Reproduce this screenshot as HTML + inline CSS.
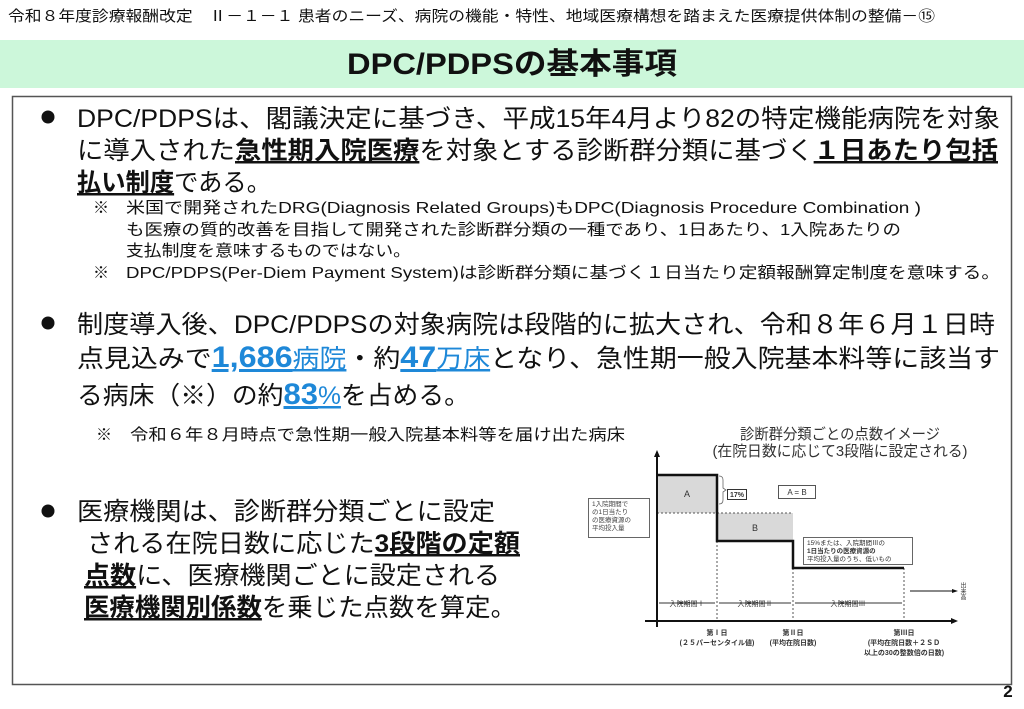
<!DOCTYPE html>
<html><head><meta charset="utf-8"><style>
html,body{margin:0;padding:0;background:#fff;}
svg{display:block;font-family:"Liberation Sans","Noto Sans CJK JP",sans-serif;}
.b{font-weight:bold;}
.u{text-decoration:underline;}
.bl{fill:#1e88d8;font-weight:bold;text-decoration:underline;}
</style></head><body>
<svg width="1024" height="709" viewBox="0 0 1024 709" xmlns="http://www.w3.org/2000/svg">
<text x="8" y="21" font-size="15" textLength="927" lengthAdjust="spacingAndGlyphs" fill="#111">令和８年度診療報酬改定　Ⅱ－１－１ 患者のニーズ、病院の機能・特性、地域医療構想を踏まえた医療提供体制の整備－⑮</text>
<rect x="0" y="40" width="1024" height="48" fill="#ccf7da"/>
<text x="512" y="74" font-size="30" font-weight="bold" text-anchor="middle" textLength="330" lengthAdjust="spacingAndGlyphs" fill="#111">DPC/PDPSの基本事項</text>
<rect x="12.5" y="96.5" width="999" height="588" fill="none" stroke="#555" stroke-width="1.5"/>

<g fill="#111">
<circle cx="48" cy="117" r="6.5"/>
<text x="77" y="127" font-size="25" textLength="923" lengthAdjust="spacingAndGlyphs">DPC/PDPSは、閣議決定に基づき、平成15年4月より82の特定機能病院を対象</text>
<text x="77" y="159" font-size="25" textLength="921" lengthAdjust="spacingAndGlyphs">に導入された<tspan class="b u">急性期入院医療</tspan>を対象とする診断群分類に基づく<tspan class="b u">１日あたり包括</tspan></text>
<text x="77" y="191" font-size="25" textLength="194" lengthAdjust="spacingAndGlyphs"><tspan class="b u">払い制度</tspan>である。</text>

<text x="93" y="213" font-size="16">※</text>
<text x="126" y="213" font-size="16" textLength="795" lengthAdjust="spacingAndGlyphs">米国で開発されたDRG(Diagnosis Related Groups)もDPC(Diagnosis Procedure Combination )</text>
<text x="126" y="235" font-size="16" textLength="775" lengthAdjust="spacingAndGlyphs">も医療の質的改善を目指して開発された診断群分類の一種であり、1日あたり、1入院あたりの</text>
<text x="126" y="256" font-size="16" textLength="285" lengthAdjust="spacingAndGlyphs">支払制度を意味するものではない。</text>
<text x="93" y="278" font-size="16">※</text>
<text x="126" y="278" font-size="16" textLength="874" lengthAdjust="spacingAndGlyphs">DPC/PDPS(Per-Diem Payment System)は診断群分類に基づく１日当たり定額報酬算定制度を意味する。</text>

<circle cx="48" cy="323" r="6.5"/>
<text x="77" y="333" font-size="25" textLength="918" lengthAdjust="spacingAndGlyphs">制度導入後、DPC/PDPSの対象病院は段階的に拡大され、令和８年６月１日時</text>
<text x="77" y="367" font-size="25" textLength="923" lengthAdjust="spacingAndGlyphs">点見込みで<tspan class="bl" font-size="30">1,686</tspan><tspan fill="#1e88d8" text-decoration="underline">病院</tspan>・約<tspan class="bl" font-size="30">47</tspan><tspan fill="#1e88d8" text-decoration="underline">万床</tspan>となり、急性期一般入院基本料等に該当す</text>
<text x="77" y="404" font-size="25" textLength="393" lengthAdjust="spacingAndGlyphs">る病床（※）の約<tspan class="bl" font-size="30">83</tspan><tspan fill="#1e88d8" text-decoration="underline">%</tspan>を占める。</text>
<text x="96" y="440" font-size="16">※</text>
<text x="130" y="440" font-size="16" textLength="495" lengthAdjust="spacingAndGlyphs">令和６年８月時点で急性期一般入院基本料等を届け出た病床</text>

<circle cx="48" cy="511" r="6.5"/>
<text x="77" y="520" font-size="25" textLength="418" lengthAdjust="spacingAndGlyphs">医療機関は、診断群分類ごとに設定</text>
<text x="87" y="552" font-size="25" textLength="433" lengthAdjust="spacingAndGlyphs">される在院日数に応じた<tspan class="b u">3段階の定額</tspan></text>
<text x="84" y="584" font-size="25" textLength="416" lengthAdjust="spacingAndGlyphs"><tspan class="b u">点数</tspan>に、医療機関ごとに設定される</text>
<text x="84" y="616" font-size="25" textLength="432" lengthAdjust="spacingAndGlyphs"><tspan class="b u">医療機関別係数</tspan>を乗じた点数を算定。</text>
</g>

<!-- chart -->
<g font-size="15" fill="#333">
<text x="840" y="439" text-anchor="middle" textLength="200" lengthAdjust="spacingAndGlyphs">診断群分類ごとの点数イメージ</text>
<text x="840" y="456" text-anchor="middle" textLength="255" lengthAdjust="spacingAndGlyphs">(在院日数に応じて3段階に設定される)</text>
</g>
<rect x="657" y="475" width="60" height="38" fill="#d9d9d9"/>
<rect x="717" y="513" width="76" height="28" fill="#d9d9d9"/>
<line x1="657" y1="513" x2="793" y2="513" stroke="#555" stroke-dasharray="2,2"/>
<g stroke="#555" stroke-dasharray="2,2">
<line x1="717" y1="541" x2="717" y2="621"/>
<line x1="793" y1="568" x2="793" y2="621"/>
<line x1="904" y1="568" x2="904" y2="621"/>
</g>
<polyline points="657,475 717,475 717,541 793,541 793,568 904,568" fill="none" stroke="#111" stroke-width="2.5"/>
<line x1="657" y1="627" x2="657" y2="452" stroke="#111" stroke-width="2"/>
<polygon points="657,450 654,457 660,457" fill="#111"/>
<line x1="645" y1="621" x2="955" y2="621" stroke="#111" stroke-width="2"/>
<polygon points="958,621 951,618 951,624" fill="#111"/>
<line x1="910" y1="591" x2="955" y2="591" stroke="#111" stroke-width="1"/>
<polygon points="958,591 952,589 952,593" fill="#111"/>
<text x="962" y="582" font-size="6" fill="#333" writing-mode="tb">出来高</text>
<g stroke="#333" stroke-width="1">
<line x1="659" y1="603" x2="715" y2="603"/><line x1="719" y1="603" x2="791" y2="603"/><line x1="795" y1="603" x2="902" y2="603"/>
</g>
<g font-size="7" fill="#333" text-anchor="middle">
<text x="687" y="606">入院期間Ⅰ</text><text x="755" y="606">入院期間Ⅱ</text><text x="848" y="606">入院期間Ⅲ</text>
<text x="717" y="635" font-weight="bold">第Ⅰ日</text>
<text x="717" y="645" font-weight="bold">(２５パーセンタイル値)</text>
<text x="793" y="635" font-weight="bold">第Ⅱ日</text>
<text x="793" y="645" font-weight="bold">(平均在院日数)</text>
<text x="904" y="635" font-weight="bold">第Ⅲ日</text>
<text x="904" y="645" font-weight="bold">(平均在院日数＋２ＳＤ</text>
<text x="904" y="655" font-weight="bold">以上の30の整数倍の日数)</text>
<text x="687" y="497" font-size="9">A</text>
<text x="755" y="531" font-size="9">B</text>
</g>
<rect x="588.5" y="498.5" width="61" height="39" fill="#fff" stroke="#666"/>
<g font-size="6.5" fill="#444">
<text x="592" y="506">1入院期間で</text><text x="592" y="514">の1日当たり</text><text x="592" y="522">の医療資源の</text><text x="592" y="530">平均投入量</text>
</g>
<rect x="727.5" y="489.5" width="19" height="10" fill="#fff" stroke="#333"/>
<text x="737" y="497" font-size="7" font-weight="bold" text-anchor="middle" fill="#333">17%</text>
<path d="M719,476 q4,0 4,4 v8 l3,2 l-3,2 v8 q0,4 -4,4" fill="none" stroke="#666" stroke-width="0.8"/>
<rect x="778.5" y="485.5" width="37" height="13" fill="#fff" stroke="#555"/>
<text x="797" y="495" font-size="8" text-anchor="middle" fill="#333">A = B</text>
<rect x="803.5" y="537.5" width="109" height="27" fill="#fff" stroke="#666"/>
<g font-size="6.5" fill="#333">
<text x="807" y="545">15%または、入院期間Ⅲの</text><text x="807" y="553" font-weight="bold">1日当たりの医療資源の</text><text x="807" y="561">平均投入量のうち、低いもの</text>
</g>
<text x="1008" y="697" font-size="17" font-weight="bold" text-anchor="middle" fill="#111">2</text>
</svg>
</body></html>
